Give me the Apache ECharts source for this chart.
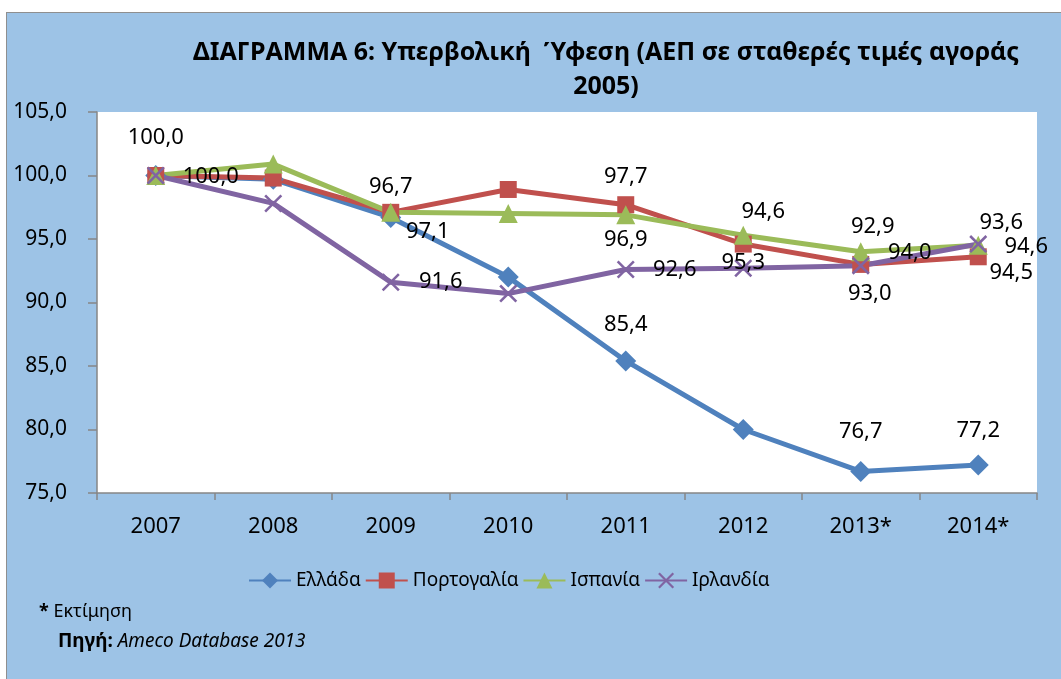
<!DOCTYPE html>
<html>
<head>
<meta charset="utf-8">
<script src="https://cdn.jsdelivr.net/npm/echarts@6/dist/echarts.min.js"></script>
<style>
  body { margin: 0; background: #fff; overflow: hidden; }
  #frame { position: absolute; left: 6px; top: 12px; width: 1100px; height: 700px; background: #9DC3E6; border: 1.5px solid #8f8f8f; }
  #chart { position: absolute; left: 0; top: 0; width: 1061px; height: 679px; }
</style>
</head>
<body>
<div id="frame"></div>
<div id="chart"></div>
<script>
// categories and values (ΑΕΠ, 2007 = 100)
const years = ['2007', '2008', '2009', '2010', '2011', '2012', '2013*', '2014*'];
const names = ['Ελλάδα', 'Πορτογαλία', 'Ισπανία', 'Ιρλανδία'];
const greece   = [100.0, 99.7, 96.7, 92.0, 85.4, 80.0, 76.7, 77.2];
const portugal = [100.0, 99.8, 97.1, 98.9, 97.7, 94.6, 93.0, 93.6];
const spain    = [100.0, 100.9, 97.1, 97.0, 96.9, 95.3, 94.0, 94.5];
const ireland  = [100.0, 97.8, 91.6, 90.7, 92.6, 92.7, 92.9, 94.6];
const yMin = 75, yMax = 105, yStep = 5;

// where each data label sits relative to its point (null = no label)
const greeceLbl   = [[0, -38], null, [0, -31], null, [0, -36], null, [0, -40], [0, -34]];
const portugalLbl = [[55, 1], null, null, null, [0, -28], [20, -32], [9, 29], [23, -34]];
const spainLbl    = [null, null, [37, 19], null, [0, 25], [0, 28], [49, 1], [33, 27]];
const irelandLbl  = [null, null, [50, 0], null, [49, 0], null, [12, -39], [48, 3]];

const FONT = 'Noto Sans';
const fmt = v => v.toFixed(1).replace('.', ',');

function withLabels(values, offsets) {
  return values.map((v, i) => offsets[i]
    ? { value: v, label: { show: true, position: 'inside', offset: offsets[i] } }
    : v);
}

function makeSeries(name, values, offsets, color, symbol, size) {
  return {
    name: name,
    type: 'line',
    data: withLabels(values, offsets),
    symbol: symbol,
    symbolSize: size,
    lineStyle: { width: 5, color: color },
    itemStyle: { color: color },
    label: {
      show: false,
      color: '#000',
      fontFamily: FONT,
      fontSize: 22,
      formatter: p => fmt(p.value)
    },
    emphasis: { disabled: true },
    animation: false
  };
}

const cross = 'path://M0,1 L1,0 L10,9 L9,10 Z M9,0 L10,1 L1,10 L0,9 Z';

const chart = echarts.init(document.getElementById('chart'));
chart.setOption({
  backgroundColor: 'transparent',
  title: {
    text: 'ΔΙΑΓΡΑΜΜΑ 6: Υπερβολική  Ύφεση (ΑΕΠ σε σταθερές τιμές αγοράς\n2005)',
    left: 601,
    top: 31,
    textAlign: 'center',
    textStyle: { fontFamily: FONT, fontSize: 25, fontWeight: 'bold', color: '#000', lineHeight: 34 }
  },
  grid: {
    left: 97, right: 24, top: 112, bottom: 186,
    show: true, backgroundColor: '#fff', borderWidth: 0
  },
  legend: {
    data: names,
    left: 243,
    top: 566,
    itemWidth: 42,
    itemHeight: 20,
    itemGap: 4,
    textStyle: { fontFamily: FONT, fontSize: 19, color: '#000' }
  },
  xAxis: {
    type: 'category',
    data: years,
    boundaryGap: true,
    axisLine: { lineStyle: { color: '#868686', width: 1.5 } },
    axisTick: { show: true, length: 7, lineStyle: { color: '#868686', width: 1.5 } },
    axisLabel: { color: '#000', fontFamily: FONT, fontSize: 22, margin: 23 },
    splitLine: { show: false }
  },
  yAxis: {
    type: 'value',
    min: yMin,
    max: yMax,
    interval: yStep,
    axisLine: { show: true, lineStyle: { color: '#868686', width: 1.5 } },
    axisTick: { show: true, length: 9, lineStyle: { color: '#868686', width: 1.5 } },
    axisLabel: { color: '#000', fontFamily: FONT, fontSize: 21, margin: 30, formatter: v => fmt(v) },
    splitLine: { show: false }
  },
  graphic: [
    {
      type: 'text', left: 39, top: 603,
      style: {
        text: '{b|*} Εκτίμηση',
        fontFamily: FONT, fontSize: 18, fill: '#000',
        rich: { b: { fontFamily: FONT, fontSize: 18, fontWeight: 'bold', fill: '#000' } }
      }
    },
    {
      type: 'text', left: 58, top: 632,
      style: {
        text: '{b|Πηγή:} {i|Ameco Database 2013}',
        fontFamily: FONT, fontSize: 19, fill: '#000',
        rich: {
          b: { fontFamily: FONT, fontSize: 19, fontWeight: 'bold', fill: '#000' },
          i: { fontFamily: FONT, fontSize: 19, fontStyle: 'italic', fill: '#000' }
        }
      }
    }
  ],
  series: [
    makeSeries(names[0], greece, greeceLbl, '#4F81BD', 'diamond', 21),
    makeSeries(names[1], portugal, portugalLbl, '#C0504D', 'rect', 17),
    makeSeries(names[2], spain, spainLbl, '#9BBB59', 'triangle', 19),
    makeSeries(names[3], ireland, irelandLbl, '#8064A2', cross, 18)
  ]
});
</script>
</body>
</html>
